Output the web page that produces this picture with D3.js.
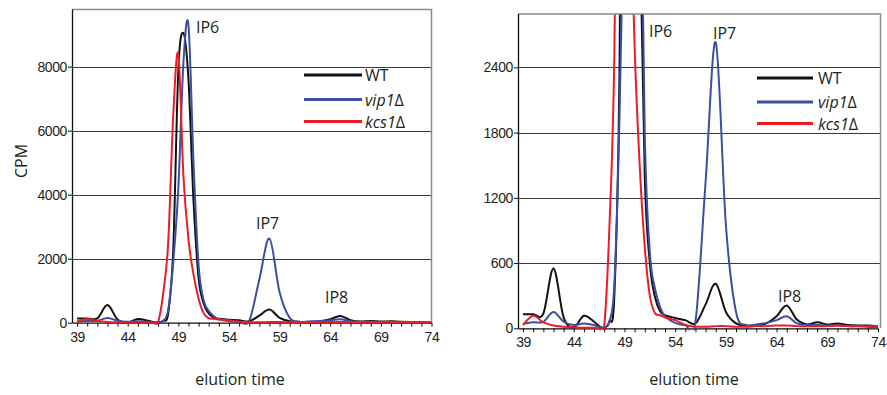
<!DOCTYPE html>
<html>
<head>
<meta charset="utf-8">
<script src="https://cdn.jsdelivr.net/npm/d3@7"></script>
<style>
  html, body { margin: 0; padding: 0; background: #fff; }
  svg { display: block; font-family: "Open Sans", "DejaVu Sans", sans-serif; }
  .tick text { fill: #231f20; }
</style>
</head>
<body>
<svg id="chart" width="887" height="395"></svg>
<script>
// elution time (min) of each fraction
const elutionTime = [39, 40, 41, 42, 43, 44, 45, 46, 46.5, 47, 47.5, 48, 48.5, 49, 49.5, 50, 50.5, 51, 51.5, 52, 52.5, 53,
  54, 55, 56, 57, 58, 59, 60, 61, 62, 63, 64, 65, 66, 67, 68, 69, 70, 71, 72, 73, 74];

// CPM per strain
const wtCpm = [130, 130, 135, 550, 100, 10, 115, 60, 20, 5, 60, 300, 2300, 7900, 9050, 7600, 3800, 1400, 600, 290, 160, 120,
  95, 75, 45, 220, 410, 150, 45, 25, 30, 45, 110, 210, 80, 35, 55, 35, 45, 30, 25, 25, 20];
const vip1Cpm = [40, 55, 60, 150, 60, 30, 45, 30, 10, 10, 60, 400, 1900, 4200, 8100, 9300, 5000, 1800, 700, 370, 200, 110,
  50, 30, 60, 1350, 2630, 950, 150, 30, 35, 50, 75, 110, 45, 30, 30, 25, 25, 20, 20, 15, 10];
const kcs1Cpm = [30, 115, 55, 25, 15, 10, 5, 5, 0, 20, 900, 2500, 6500, 8400, 4600, 2600, 1500, 750, 300, 140, 120, 100,
  75, 30, 15, 15, 20, 20, 15, 15, 20, 20, 25, 25, 20, 20, 20, 20, 25, 20, 20, 20, 20];

const seriesNames = ["WT", "vip1", "kcs1"];
const seriesColors = ["#111111", "#3b4ea3", "#ed1c24"];
const xTickLabels = [39, 44, 49, 54, 59, 64, 69, 74];
const leftYTicks = [0, 2000, 4000, 6000, 8000];
const rightYTicks = [0, 600, 1200, 1800, 2400];
const peakLabels = ["IP6", "IP7", "IP8"];

const series = [wtCpm, vip1Cpm, kcs1Cpm].map((vals, i) => ({
  name: seriesNames[i],
  color: seriesColors[i],
  points: vals.map((v, j) => ({ t: elutionTime[j], cpm: v })),
}));

const svg = d3.select("#chart");
const textColor = "#231f20";

function drawPanel(p) {
  const x = d3.scaleLinear().domain([38.5, 74]).range([p.left, p.right]);
  const y = d3.scaleLinear().domain([0, p.yMax]).range([p.bottom, p.top]);
  const g = svg.append("g");

  // grid
  g.append("g")
    .selectAll("line")
    .data(p.yTicks.filter((d) => d > 0))
    .join("line")
    .attr("x1", p.left)
    .attr("x2", p.frameRight)
    .attr("y1", (d) => Math.round(y(d)) + 0.5)
    .attr("y2", (d) => Math.round(y(d)) + 0.5)
    .attr("stroke", "#3a3a3a")
    .attr("stroke-width", 1);

  // frame top + right
  g.append("path")
    .attr("d", `M${p.left},${p.top + 0.5}H${p.frameRight + 0.5}V${p.bottom}`)
    .attr("fill", "none")
    .attr("stroke", "#8a8a8a")
    .attr("stroke-width", 1.5);

  // y axis
  const yAxis = g.append("g")
    .attr("transform", `translate(${p.left},0)`)
    .call(d3.axisLeft(y).tickValues(p.yTicks).tickFormat(d3.format("d"))
      .tickSize(4).tickPadding(1).tickSizeOuter(0));
  yAxis.select(".domain").attr("stroke", "#111").attr("stroke-width", 1.3);
  yAxis.selectAll(".tick line").attr("stroke", "#111");
  yAxis.selectAll("text").style("font-size", p.tickFont + "px").style("letter-spacing", "-0.4px");

  // x axis: minor ticks each minute, labels every five
  const xAxis = g.append("g")
    .attr("transform", `translate(0,${p.bottom})`)
    .call(d3.axisBottom(x)
      .tickValues(d3.range(39, 75))
      .tickSize(4)
      .tickPadding(5)
      .tickSizeOuter(0)
      .tickFormat((d) => (xTickLabels.includes(d) ? d : "")));
  xAxis.select(".domain").attr("stroke", "#111").attr("stroke-width", 1.3);
  xAxis.selectAll(".tick line").attr("stroke", "#111");
  xAxis.selectAll("text").style("font-size", p.tickFont + "px").style("letter-spacing", "-0.4px");

  // lines
  const clipId = "clip" + p.id;
  svg.append("clipPath").attr("id", clipId)
    .append("rect")
    .attr("x", p.left).attr("y", p.top + 1)
    .attr("width", p.frameRight - p.left).attr("height", p.bottom - p.top + 1);

  const line = d3.line()
    .x((d) => x(d.t))
    .y((d) => y(d.cpm))
    .curve(d3.curveCardinal.tension(0));

  g.append("g")
    .attr("clip-path", `url(#${clipId})`)
    .selectAll("path")
    .data(series)
    .join("path")
    .attr("d", (d) => line(d.points))
    .attr("fill", "none")
    .attr("stroke", (d) => d.color)
    .attr("stroke-width", 2)
    .attr("stroke-linejoin", "round");

  // legend
  const lg = g.append("g");
  series.forEach((s, i) => {
    lg.append("line")
      .attr("x1", p.legend.x1).attr("x2", p.legend.x2)
      .attr("y1", p.legend.ys[i]).attr("y2", p.legend.ys[i])
      .attr("stroke", s.color).attr("stroke-width", 3);
    const t = lg.append("text")
      .attr("x", p.legend.tx)
      .attr("y", p.legend.ys[i] + 6)
      .attr("fill", textColor)
      .style("font-size", "16px");
    if (i === 0) {
      t.text(s.name);
    } else {
      t.append("tspan").style("font-style", "italic").text(s.name);
      t.append("tspan").text("\u0394");
    }
  });

  // peak labels
  g.selectAll(".peak")
    .data(p.peaks)
    .join("text")
    .attr("class", "peak")
    .attr("x", (d) => d.x)
    .attr("y", (d) => d.y)
    .attr("fill", textColor)
    .style("font-size", "16px")
    .text((d, i) => peakLabels[i]);

  // x title
  g.append("text")
    .attr("x", p.titleX)
    .attr("y", 385)
    .attr("text-anchor", "middle")
    .attr("fill", textColor)
    .style("font-size", "16px")
    .text("elution time");
}

drawPanel({
  id: "L", left: 72, right: 431.5, frameRight: 431, top: 9, bottom: 322.7, yMax: 9800,
  yTicks: leftYTicks, tickFont: 14,
  legend: { x1: 304, x2: 362, tx: 365, ys: [75, 99.5, 121.5] },
  peaks: [{ x: 196, y: 32.5 }, { x: 256, y: 229 }, { x: 325, y: 302.5 }],
  titleX: 240,
});

drawPanel({
  id: "R", left: 518, right: 878, frameRight: 880, top: 13.5, bottom: 328.3, yMax: 2895,
  yTicks: rightYTicks, tickFont: 14,
  legend: { x1: 757, x2: 813, tx: 818, ys: [78, 102, 123.5] },
  peaks: [{ x: 649, y: 36.5 }, { x: 713, y: 39 }, { x: 778, y: 302 }],
  titleX: 694,
});

// y title
svg.append("text")
  .attr("transform", "translate(27,161) rotate(-90)")
  .attr("text-anchor", "middle")
  .attr("fill", textColor)
  .style("font-size", "16px")
  .text("CPM");
</script>
</body>
</html>
